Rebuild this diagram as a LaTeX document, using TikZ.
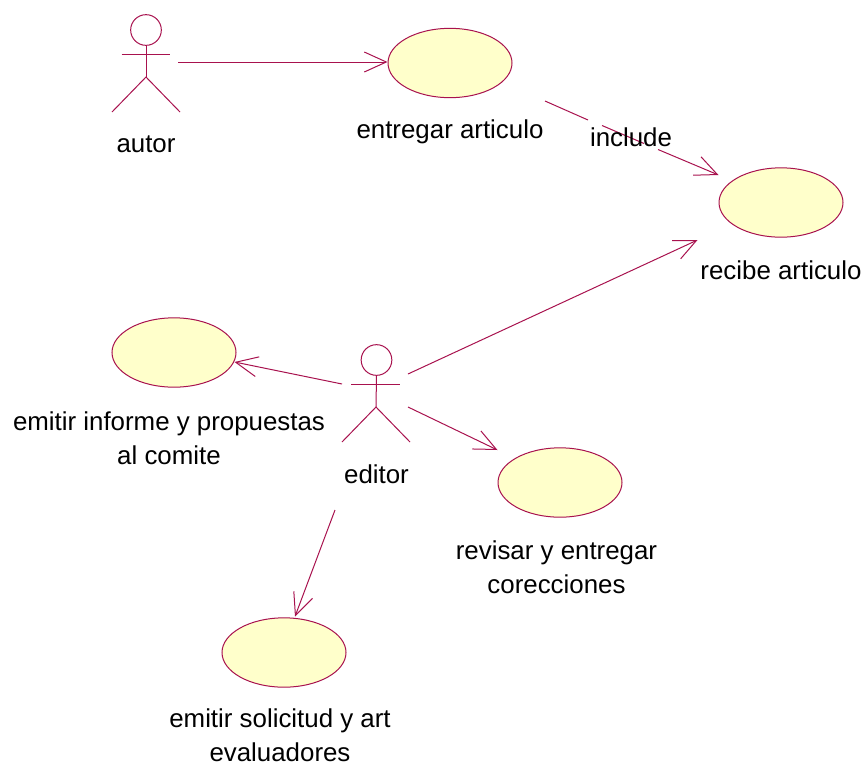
\documentclass[tikz,border=0pt]{standalone}
\usepackage{fontspec}
\setmainfont{Liberation Sans}
\usetikzlibrary{arrows.meta,shapes.geometric}
\definecolor{umlline}{HTML}{A8124E}
\definecolor{umlfill}{HTML}{FFFFCB}
\tikzset{
  usecase/.style={ellipse,draw=umlline,fill=umlfill,line width=0.75pt,minimum width=93pt,minimum height=52pt,inner sep=0pt},
  lbl/.style={text=black,font=\fontsize{19.4}{25.5}\selectfont,align=center,inner sep=0pt},
  conn/.style={draw=umlline,line width=0.75pt},
  assoc/.style={conn,-{Straight Barb[length=16.5pt,width=15pt,line width=0.75pt]}},
  limb/.style={draw=umlline,line width=0.75pt},
  head/.style={circle,draw=umlline,line width=0.75pt,minimum size=23pt,inner sep=0pt}
}
\begin{document}
\begin{tikzpicture}[x=0.75pt,y=-0.75pt]
\useasboundingbox (0,0) rectangle (865,765);
% use cases
\node[usecase] (uEntregar) at (450,63) {};
\node[usecase] (uRecibe) at (781,202.5) {};
\node[usecase] (uInforme) at (174,352.5) {};
\node[usecase] (uRevisar) at (560,482.5) {};
\node[usecase] (uSolicitud) at (284,652.5) {};
% actor autor
\node[head] (aHead) at (146,30) {};
\coordinate (aHip) at (146,77);
\coordinate (aArmL) at (121.5,54);
\coordinate (aArmR) at (170,54);
\coordinate (aLegL) at (112,112);
\coordinate (aLegR) at (180,112);
\draw[limb] (aHead.south) -- (aHip);
\draw[limb] (aArmL) -- (aArmR);
\draw[limb] (aLegL) -- (aHip) -- (aLegR);
% actor editor
\node[head] (eHead) at (376.5,360) {};
\coordinate (eHip) at (376,407);
\coordinate (eArmL) at (351,384.5);
\coordinate (eArmR) at (400,384.5);
\coordinate (eLegL) at (342,442);
\coordinate (eLegR) at (410,442);
\draw[limb] (eHead.south) -- (eHip);
\draw[limb] (eArmL) -- (eArmR);
\draw[limb] (eLegL) -- (eHip) -- (eLegR);
% labels
\node[lbl] (lAutor) at (146,144) {autor};
\node[lbl] (lEntregar) at (450,132) {entregar articulo};
\node[lbl] (lRecibe) at (781,270) {recibe articulo};
\node[lbl] (lInforme) at (169,438) {emitir informe y propuestas\\al comite};
\node[lbl] (lEditor) at (376.5,474) {editor};
\node[lbl] (lRevisar) at (556.5,567) {revisar y entregar\\corecciones};
\node[lbl] (lSolicitud) at (280,735) {emitir solicitud y art\\evaluadores};
% connector anchors
\coordinate (cA1) at (178,62);
\coordinate (cA2) at (387.5,62);
\coordinate (cI1) at (545,101);
\coordinate (cI2) at (588,120);
\coordinate (cI3) at (602,125.5);
\coordinate (cI4) at (644,143.5);
\coordinate (cI5) at (658,149.5);
\coordinate (cI6) at (718.5,175);
\coordinate (cE1) at (408,374);
\coordinate (cE2) at (697.5,240);
\coordinate (cE3) at (342,384);
\coordinate (cE4) at (234.5,362);
\coordinate (cE5) at (408,407);
\coordinate (cE6) at (497.5,450);
\coordinate (cE7) at (335,510);
\coordinate (cE8) at (295,616.5);
% connectors
\draw[assoc] (cA1) -- (cA2);
\draw[conn] (cI1) -- (cI2);
\draw[conn] (cI3) -- (cI4);
\draw[assoc] (cI5) -- (cI6);
\node[lbl] (lInclude) at (631,137) {include};
\draw[assoc] (cE1) -- (cE2);
\draw[assoc] (cE3) -- (cE4);
\draw[assoc] (cE5) -- (cE6);
\draw[assoc] (cE7) -- (cE8);
\end{tikzpicture}
\end{document}
